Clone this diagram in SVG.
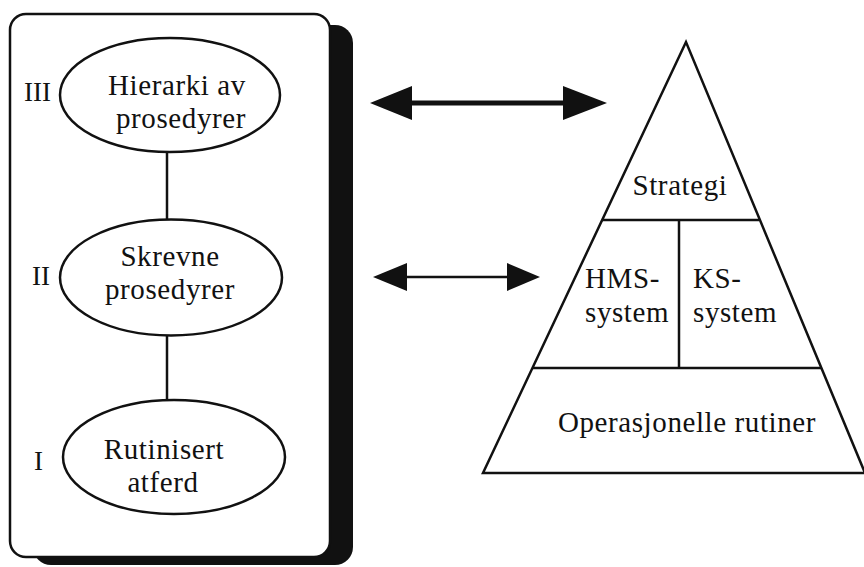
<svg xmlns="http://www.w3.org/2000/svg" width="864" height="567" viewBox="0 0 864 567">
<defs>
<style>
text{font-family:"Liberation Serif","Times New Roman",serif;font-size:29px;letter-spacing:0.6px;fill:#111;}
.mid{text-anchor:middle;}
.ln{stroke:#111;stroke-width:2.5;fill:none;}
.el{stroke:#111;stroke-width:2.5;fill:#fff;}
.num{font-size:27px;letter-spacing:0;}
</style>
</defs>
<rect width="864" height="567" fill="#fff"/>
<g id="panel">
<rect x="33" y="25" width="320" height="540" rx="18" fill="#111"/>
<rect x="10" y="14" width="320" height="543" rx="16" fill="#fff" stroke="#111" stroke-width="2.5"/>
</g>
<g id="connectors">
<line class="ln" x1="167" y1="153" x2="167" y2="220"/>
<line class="ln" x1="167" y1="336" x2="167" y2="400"/>
<line x1="405" y1="103" x2="570" y2="103" stroke="#111" stroke-width="5"/>
<polygon points="370,103 412,86 412,120" fill="#111"/>
<polygon points="607,103 563,86 563,120" fill="#111"/>
<line x1="400" y1="277" x2="512" y2="277" stroke="#111" stroke-width="2.5"/>
<polygon points="373,277 407,263 407,291" fill="#111"/>
<polygon points="540,277 507,263 507,291" fill="#111"/>
</g>
<g id="level3">
<ellipse class="el" cx="170" cy="95" rx="110" ry="57"/>
<text class="num" x="24" y="101">III</text>
<text class="mid" x="177" y="95">Hierarki av</text>
<text class="mid" x="181" y="128">prosedyrer</text>
</g>
<g id="level2">
<ellipse class="el" cx="171" cy="277.5" rx="111" ry="58"/>
<text class="num" x="32" y="285">II</text>
<text class="mid" x="170" y="266">Skrevne</text>
<text class="mid" x="170" y="299">prosedyrer</text>
</g>
<g id="level1">
<ellipse class="el" cx="174" cy="457" rx="111" ry="57"/>
<text class="num" x="34" y="470">I</text>
<text class="mid" x="164" y="459">Rutinisert</text>
<text class="mid" x="163" y="492">atferd</text>
</g>
<g id="pyramid">
<polygon class="ln" points="686,42 483,473 865,473"/>
<line class="ln" x1="602" y1="220" x2="759" y2="220"/>
<line class="ln" x1="532" y1="368" x2="821" y2="368"/>
<line class="ln" x1="679" y1="220" x2="679" y2="368"/>
</g>
<g id="strategi"><text class="mid" x="680" y="195">Strategi</text></g>
<g id="hms"><text x="585" y="288">HMS-</text><text x="585" y="322">system</text></g>
<g id="ks"><text x="693" y="288">KS-</text><text x="693" y="322">system</text></g>
<g id="operasjonelle"><text class="mid" x="687" y="432">Operasjonelle rutiner</text></g>
</svg>
